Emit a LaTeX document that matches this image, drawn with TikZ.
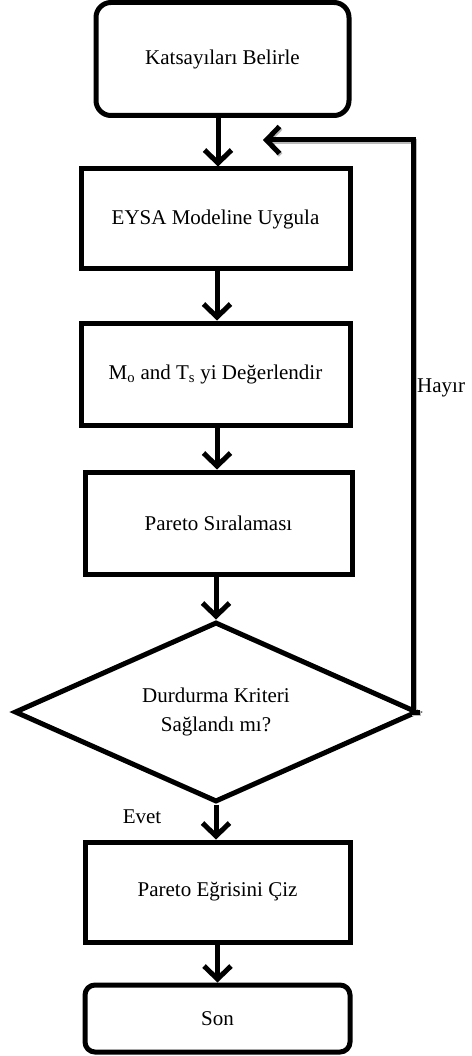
\documentclass[tikz,border=0pt]{standalone}
\usepackage{fontspec}
\setmainfont{Liberation Serif}
\usetikzlibrary{shapes.geometric,arrows.meta}
\begin{document}
\begin{tikzpicture}[x=1pt,y=-1pt,
  every node/.style={font=\fontsize{21}{29}\selectfont},
  box/.style={draw, line width=5pt, inner sep=0pt, align=center},
  rbox/.style={box, rounded corners=15pt},
  dia/.style={draw, diamond, line width=5pt, inner sep=0pt, aspect=2.24, align=center},
  arr/.style={line width=5pt, -{Straight Barb[length=13pt,width=27pt]}},
  shadowarr/.style={arr, preaction={draw=gray!55, line width=5pt, -{Straight Barb[length=13pt,width=27pt]}, transform canvas={shift={(1.2pt,-1.5pt)}}}}]
\useasboundingbox (0,0) rectangle (471,1056);
\node[rbox, minimum width=253pt, minimum height=113pt] (k) at (222.5,59) {Katsayıları Belirle};
\node[box, minimum width=269pt, minimum height=100pt] (e) at (215.5,219) {EYSA Modeline Uygula};
\node[box, minimum width=269pt, minimum height=102pt] (m) at (215.5,374) {M\textsubscript{o} and T\textsubscript{s} yi Değerlendir};
\node[box, minimum width=267pt, minimum height=102pt] (p) at (218.5,523) {Pareto Sıralaması};
\node[dia, minimum width=403pt, minimum height=180pt] (d) at (216,712) {Durdurma Kriteri\\Sağlandı mı?};
\node[box, minimum width=265pt, minimum height=100pt] (c) at (217.5,892) {Pareto Eğrisini Çiz};
\node[box, rounded corners=10pt, minimum width=265pt, minimum height=67pt] (s) at (217.5,1018.5) {Son};
\node[anchor=west, inner sep=0pt] (h) at (417,388) {Hayır};
\node (ev) at (142,817) {Evet};
\coordinate (fb) at (263,140);
\draw[arr] (k.south -| 218,0) -- (218,0 |- e.north);
\draw[arr] (e.south -| 217,0) -- (217,0 |- m.north);
\draw[arr] (m.south -| 217,0) -- (217,0 |- p.north);
\draw[arr] (p.south -| d.north) -- (d.north);
\draw[arr] (d.south) -- (d.south |- c.north);
\draw[arr] (c.south -| 217.5,0) -- (217.5,0 |- s.north);
\draw[shadowarr] (d.east) -- ++(-7,0) |- (fb);
\end{tikzpicture}
\end{document}
